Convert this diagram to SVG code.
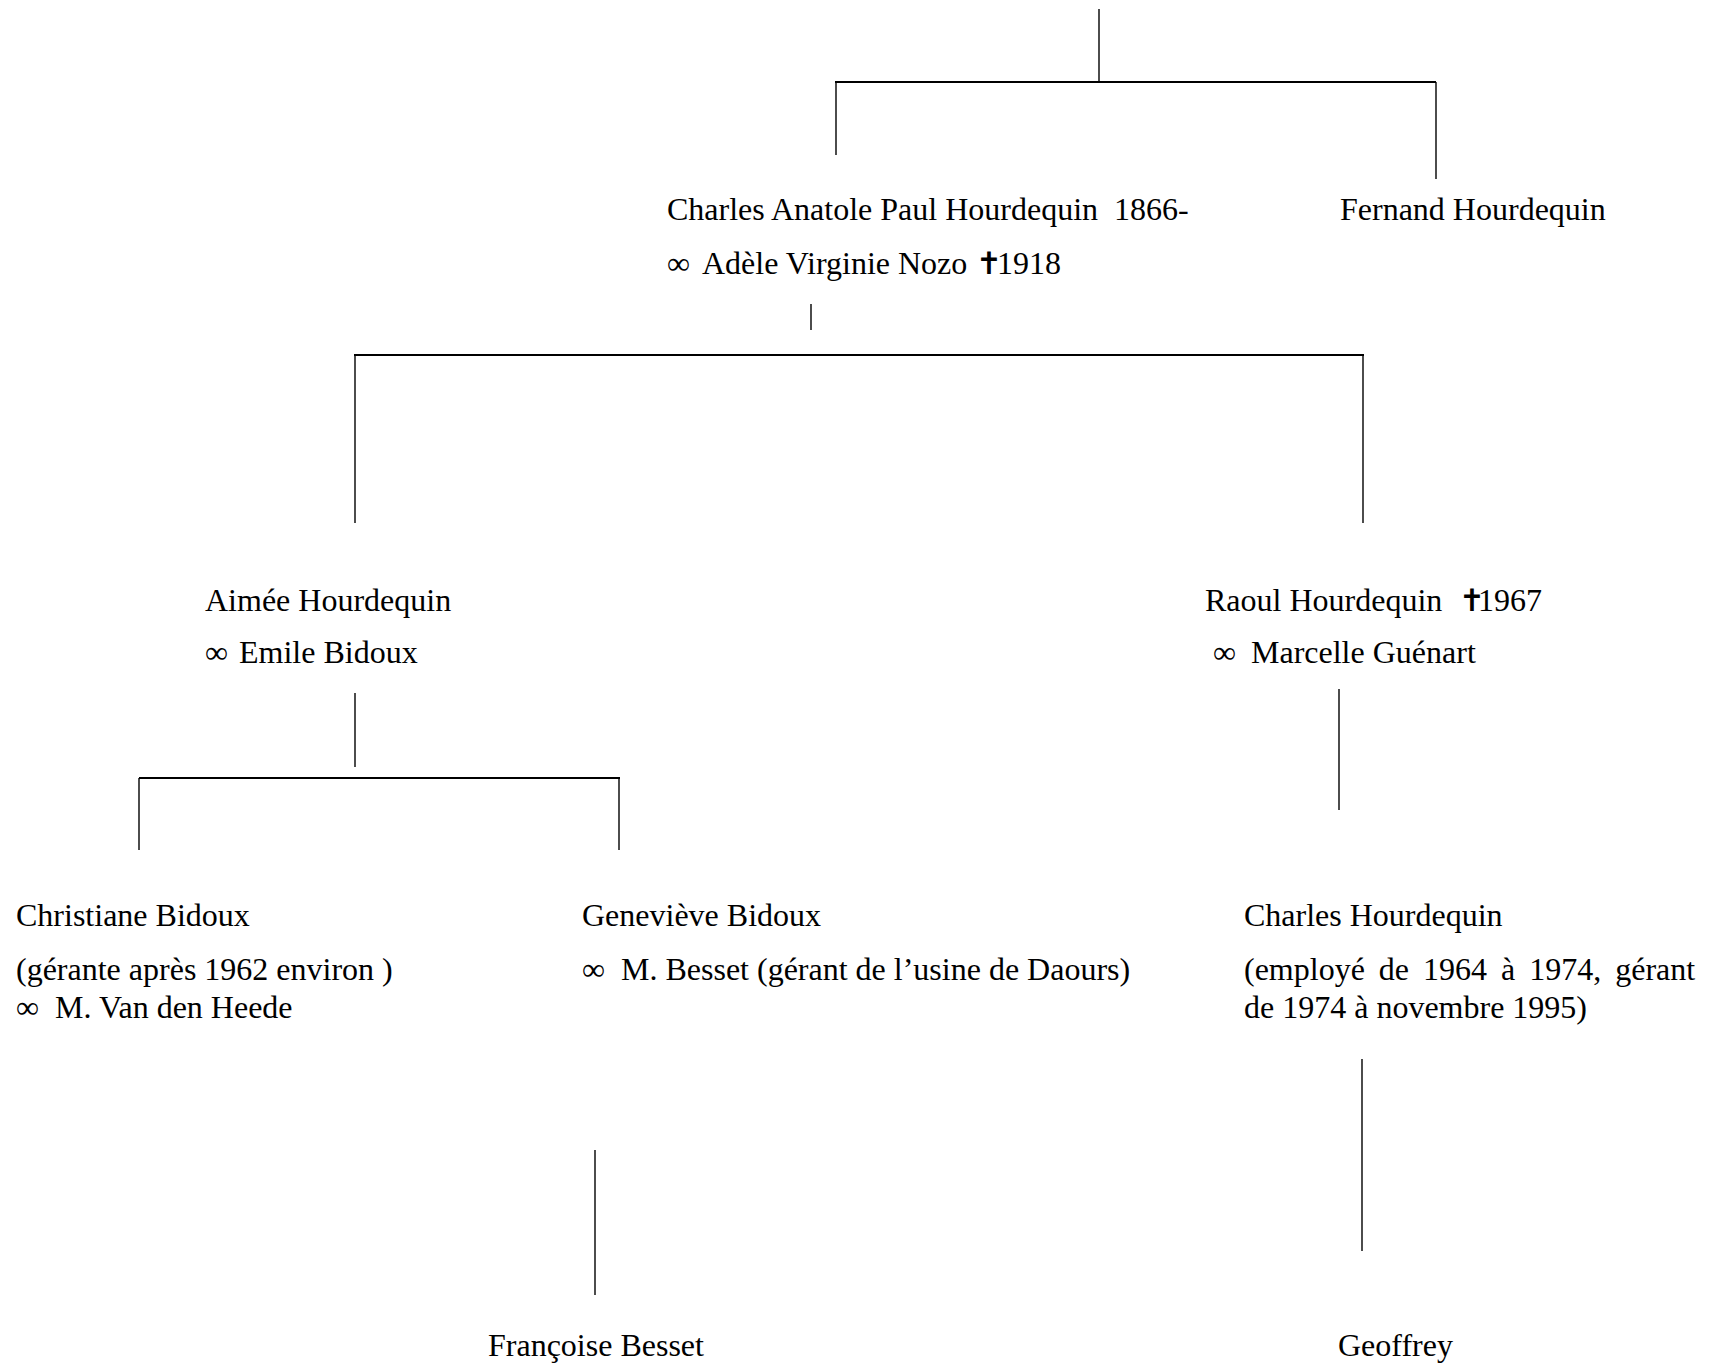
<svg xmlns="http://www.w3.org/2000/svg" width="1720" height="1366" viewBox="0 0 1720 1366">
<style>
text{font-family:"Liberation Serif","Times New Roman",serif;font-size:32px;fill:#000}
.x{font-family:"DejaVu Sans",sans-serif;font-weight:bold;font-size:31px;letter-spacing:-8px}
.v{stroke:#000;stroke-width:1.4;fill:none}
.h{stroke:#000;stroke-width:2.2;fill:none}
</style>
<rect width="1720" height="1366" fill="#fff"/>
<g id="connectors">
<line class="v" x1="1099" y1="9" x2="1099" y2="82"/>
<line class="h" x1="835" y1="82" x2="1436" y2="82"/>
<line class="v" x1="836" y1="82" x2="836" y2="155"/>
<line class="v" x1="1436" y1="82" x2="1436" y2="179"/>
<line class="v" x1="811" y1="304" x2="811" y2="330"/>
<line class="h" x1="354" y1="355" x2="1364" y2="355"/>
<line class="v" x1="355" y1="355" x2="355" y2="523"/>
<line class="v" x1="1363" y1="355" x2="1363" y2="523"/>
<line class="v" x1="355" y1="693" x2="355" y2="767"/>
<line class="h" x1="139" y1="778" x2="620" y2="778"/>
<line class="v" x1="139" y1="778" x2="139" y2="850"/>
<line class="v" x1="619" y1="778" x2="619" y2="850"/>
<line class="v" x1="1339" y1="689" x2="1339" y2="810"/>
<line class="v" x1="1362" y1="1059" x2="1362" y2="1251"/>
<line class="v" x1="595" y1="1150" x2="595" y2="1295"/>
</g>
<g id="charles-anatole">
<text x="667" y="220" xml:space="preserve">Charles Anatole Paul Hourdequin  1866-</text>
<text y="274"><tspan x="667">∞</tspan><tspan x="702">Adèle Virginie Nozo</tspan></text>
<text class="x" x="976" y="274">✝</text>
<text x="997" y="274">1918</text>
</g>
<g id="fernand">
<text x="1340" y="220">Fernand Hourdequin</text>
</g>
<g id="aimee">
<text x="205" y="611">Aimée Hourdequin</text>
<text y="663"><tspan x="205">∞</tspan><tspan x="239">Emile Bidoux</tspan></text>
</g>
<g id="raoul">
<text x="1205" y="611">Raoul Hourdequin</text>
<text class="x" x="1459" y="611">✝</text>
<text x="1478" y="611">1967</text>
<text y="663"><tspan x="1213">∞</tspan><tspan x="1251">Marcelle Guénart</tspan></text>
</g>
<g id="christiane">
<text x="16" y="926">Christiane Bidoux</text>
<text x="16" y="980">(gérante après 1962 environ )</text>
<text y="1018"><tspan x="16">∞</tspan><tspan x="55">M. Van den Heede</tspan></text>
</g>
<g id="genevieve">
<text x="582" y="926">Geneviève Bidoux</text>
<text y="980"><tspan x="582">∞</tspan><tspan x="621">M. Besset (gérant de l’usine de Daours)</tspan></text>
</g>
<g id="charles">
<text x="1244" y="926">Charles Hourdequin</text>
<text x="1244" y="980" word-spacing="6">(employé de 1964 à 1974, gérant</text>
<text x="1244" y="1018">de 1974 à novembre 1995)</text>
</g>
<g id="francoise">
<text x="488" y="1356">Françoise Besset</text>
</g>
<g id="geoffrey">
<text x="1338" y="1356">Geoffrey</text>
</g>
</svg>
